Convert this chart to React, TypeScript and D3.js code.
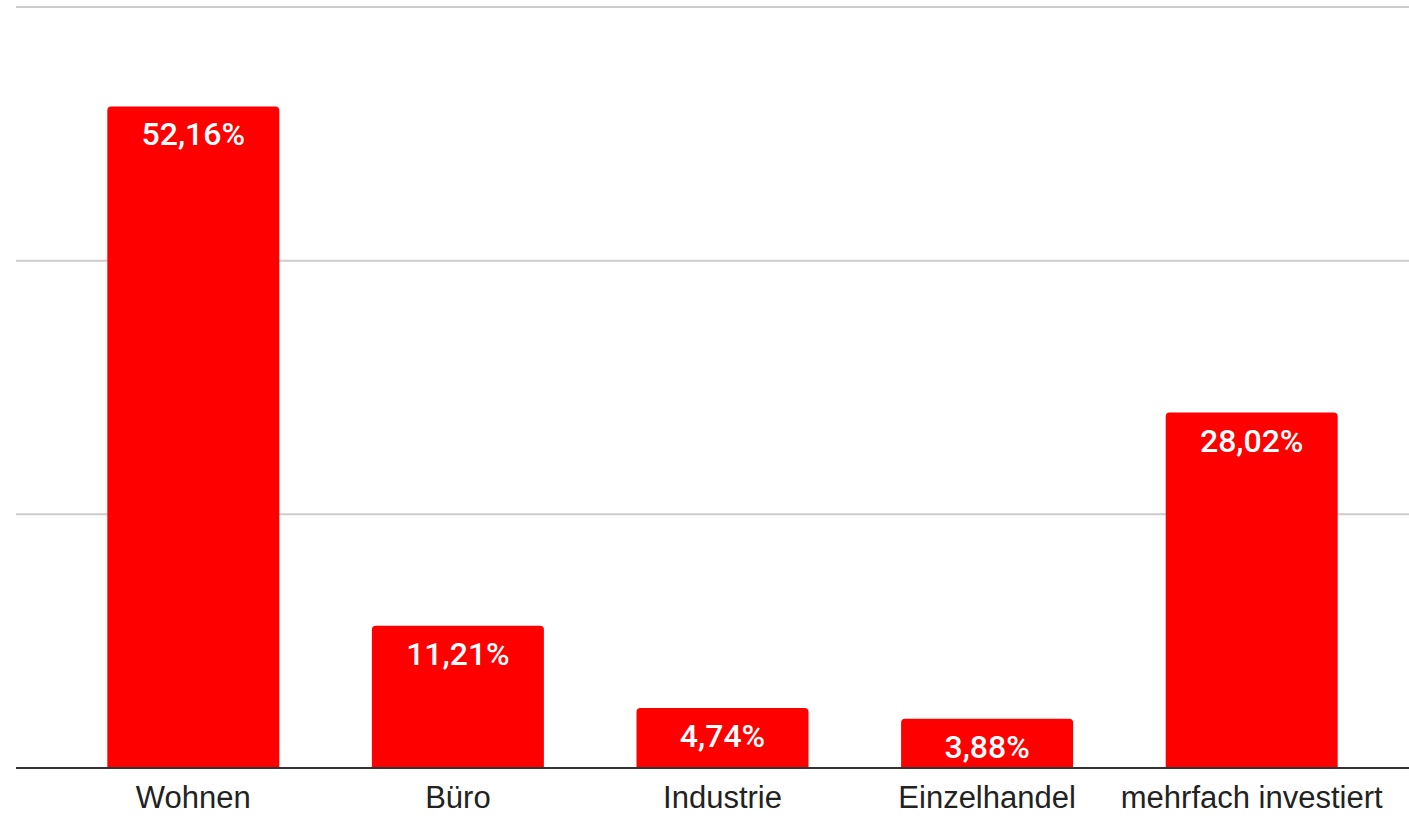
import React from "react";
import * as d3 from "d3";

const categories = ["Wohnen", "Büro", "Industrie", "Einzelhandel", "mehrfach investiert"];
const values = [52.16, 11.21, 4.74, 3.88, 28.02];
const valueLabels = ["52,16%", "11,21%", "4,74%", "3,88%", "28,02%"];
const gridTicks = [20, 40, 60];

const W = 1409;
const H = 816;

export default function App() {
  const x = d3
    .scaleBand<string>()
    .domain(categories)
    .range([61, 1384])
    .paddingInner(0.35)
    .paddingOuter(0.175);
  const y = d3.scaleLinear().domain([0, 60]).range([768, 7]);
  const r = 4;

  const barPath = (x0: number, w: number, yTop: number, yBot: number) => {
    const p = d3.path();
    p.moveTo(x0, yBot);
    p.lineTo(x0, yTop + r);
    p.arcTo(x0, yTop, x0 + r, yTop, r);
    p.lineTo(x0 + w - r, yTop);
    p.arcTo(x0 + w, yTop, x0 + w, yTop + r, r);
    p.lineTo(x0 + w, yBot);
    p.closePath();
    return p.toString();
  };

  return (
    <svg
      width={W}
      height={H}
      style={{ position: "absolute", left: 0, top: 0, background: "#fff" }}
    >
      {gridTicks.map((t) => (
        <line
          key={t}
          x1={16}
          x2={W}
          y1={y(t)}
          y2={y(t)}
          stroke="#cccccc"
          strokeWidth={2}
        />
      ))}
      {categories.map((c, i) => {
        const bx = x(c)!;
        const bw = x.bandwidth();
        const top = y(values[i]);
        return (
          <g key={c}>
            <path d={barPath(bx, bw, top, y(0))} fill="#ff0000" />
            <text
              x={bx + bw / 2}
              y={top + 39}
              textAnchor="middle"
              fill="#ffffff"
              fontFamily="Roboto, sans-serif"
              fontWeight={500}
              fontSize={32}
            >
              {valueLabels[i]}
            </text>
            <text
              x={bx + bw / 2}
              y={808}
              textAnchor="middle"
              fill="#222222"
              fontFamily="'Liberation Sans', Arial, sans-serif"
              fontSize={31}
            >
              {c}
            </text>
          </g>
        );
      })}
      <line x1={16} x2={W} y1={y(0)} y2={y(0)} stroke="#333333" strokeWidth={2} />
    </svg>
  );
}
